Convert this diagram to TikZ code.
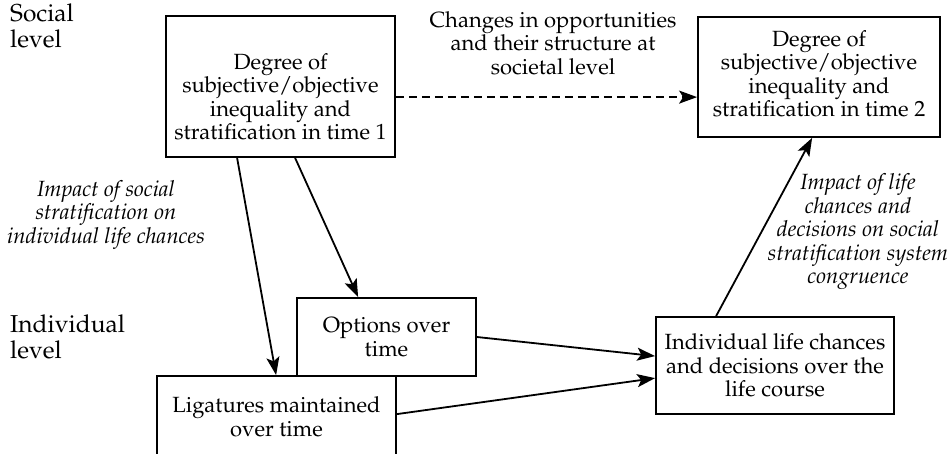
\documentclass[tikz,border=0pt]{standalone}
\usepackage[T1]{fontenc}
\usepackage{mathpazo}
\usetikzlibrary{arrows.meta,calc}
\begin{document}
\begin{tikzpicture}[x=1pt,y=-1pt,
  box/.style={draw,line width=1.8pt,align=center,inner sep=0pt,font=\fontsize{22}{23.5}\selectfont},
  conn/.style={line width=1.8pt,-{Stealth[length=18pt,width=13pt,inset=4pt]}},
  lbl/.style={align=center,inner sep=0pt,font=\fontsize{22}{23.5}\selectfont\itshape},
  plainlbl/.style={align=center,inner sep=0pt,font=\fontsize{22}{23.5}\selectfont},
  lvl/.style={align=left,anchor=north west,inner sep=0pt,font=\fontsize{24.5}{26}\selectfont}]
\useasboundingbox (0,0) rectangle (947,453);
\node[box,minimum width=229pt,minimum height=141pt] (t1) at (280.5,86.5) {};
\node[plainlbl] (t1txt) at (280.5,97)
  {Degree of\\subjective/objective\\inequality and\\stratification in time 1};
\node[box,minimum width=242pt,minimum height=120pt] (t2) at (819,77) {};
\node[plainlbl] (t2txt) at (819,74)
  {Degree of\\subjective/objective\\inequality and\\stratification in time 2};
\node[box,minimum width=179pt,minimum height=78pt] (opt) at (386.5,337)
  {Options over\\time};
\node[box,minimum width=239pt,minimum height=82pt] (lig) at (276.5,417)
  {Ligatures maintained\\over time};
\node[box,minimum width=238pt,minimum height=97pt] (ind) at (775,365.5)
  {Individual life chances\\and decisions over the\\life course};
\node[lvl] (soc) at (10,4) {Social\\level};
\node[lvl] (indl) at (10,315) {Individual\\level};
\node[plainlbl] (chg) at (553,43) {Changes in opportunities\\and their structure at\\societal level};
\node[lbl] (imp1) at (106,215) {Impact of social\\stratification on\\individual life chances};
\node[lbl] (imp2) at (858,232) {Impact of life\\chances and\\decisions on social\\stratification system\\congruence};
\draw[conn,dash pattern=on 8pt off 5pt] ([yshift=-82pt]t1.north east) -- ([yshift=-81pt]t2.north west);
\draw[conn] ([xshift=72pt]t1.south west) -- ([xshift=120pt]lig.north west);
\draw[conn] ([xshift=130pt]t1.south west) -- ([xshift=62pt]opt.north west);
\draw[conn] (opt.east) -- ([yshift=-40pt]ind.north west);
\draw[conn] ([yshift=-39pt]lig.north east) -- ([yshift=-62pt]ind.north west);
\draw[conn] ([xshift=61pt]ind.north west) -- ([xshift=115pt]t2.south west);
\end{tikzpicture}
\end{document}
